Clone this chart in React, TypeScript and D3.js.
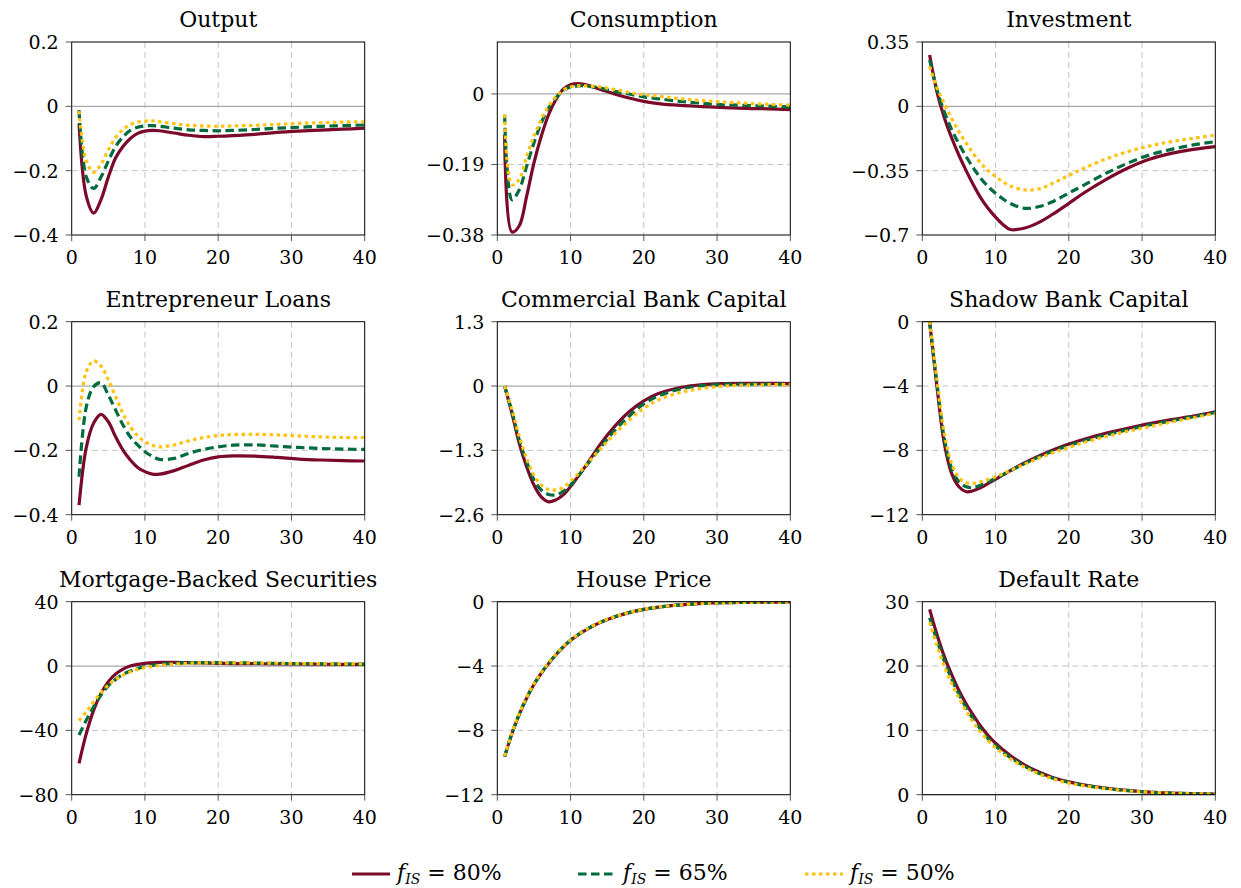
import React from 'react';
import * as d3 from 'd3';

// quarters after the shock
const PERIODS = [1, 2, 3, 4, 5, 6, 7, 8, 9, 10, 11, 12, 14, 16, 18, 20, 22, 25, 28, 31, 34, 37, 40];
const X_TICKS = [0, 10, 20, 30, 40];

const SERIES_LABELS = ['80%', '65%', '50%'];

// Output
const output80 = [-0.053, -0.28, -0.332, -0.29, -0.22, -0.16, -0.125, -0.1, -0.084, -0.077, -0.075, -0.076, -0.083, -0.09, -0.094, -0.093, -0.091, -0.087, -0.081, -0.077, -0.074, -0.071, -0.068];
const output65 = [-0.012, -0.22, -0.255, -0.22, -0.17, -0.125, -0.095, -0.075, -0.065, -0.061, -0.06, -0.062, -0.068, -0.073, -0.075, -0.076, -0.075, -0.072, -0.068, -0.065, -0.062, -0.06, -0.058];
const output50 = [-0.015, -0.17, -0.205, -0.18, -0.135, -0.097, -0.072, -0.057, -0.049, -0.046, -0.045, -0.048, -0.054, -0.059, -0.061, -0.062, -0.061, -0.059, -0.056, -0.053, -0.051, -0.049, -0.048];

// Consumption
const cons80 = [-0.11, -0.372, -0.355, -0.276, -0.186, -0.114, -0.056, -0.015, 0.013, 0.025, 0.028, 0.025, 0.013, 0, -0.011, -0.02, -0.026, -0.031, -0.034, -0.037, -0.039, -0.04, -0.042];
const cons65 = [-0.056, -0.285, -0.258, -0.195, -0.132, -0.078, -0.038, -0.011, 0.01, 0.019, 0.022, 0.022, 0.016, 0.007, 0, -0.008, -0.013, -0.02, -0.025, -0.029, -0.031, -0.033, -0.035];
const cons50 = [-0.056, -0.245, -0.23, -0.168, -0.114, -0.069, -0.033, -0.008, 0.01, 0.019, 0.022, 0.022, 0.019, 0.012, 0.004, -0.002, -0.006, -0.013, -0.018, -0.022, -0.025, -0.028, -0.03];

// Investment
const inv80 = [0.279, 0.079, -0.061, -0.171, -0.266, -0.351, -0.429, -0.499, -0.556, -0.603, -0.643, -0.67, -0.662, -0.63, -0.582, -0.528, -0.473, -0.4, -0.337, -0.288, -0.256, -0.234, -0.219];
const inv65 = [0.252, 0.09, -0.03, -0.125, -0.205, -0.274, -0.337, -0.392, -0.437, -0.473, -0.503, -0.528, -0.555, -0.545, -0.515, -0.472, -0.43, -0.366, -0.31, -0.265, -0.234, -0.21, -0.192];
const inv50 = [0.216, 0.1, 0.016, -0.065, -0.138, -0.2, -0.259, -0.31, -0.35, -0.383, -0.41, -0.433, -0.455, -0.448, -0.415, -0.376, -0.338, -0.288, -0.247, -0.216, -0.192, -0.174, -0.156];

// Entrepreneur loans
const loans80 = [-0.37, -0.19, -0.115, -0.088, -0.111, -0.158, -0.199, -0.23, -0.253, -0.266, -0.274, -0.274, -0.263, -0.246, -0.23, -0.22, -0.217, -0.218, -0.222, -0.227, -0.23, -0.232, -0.233];
const loans65 = [-0.282, -0.064, -0.002, 0.01, -0.028, -0.075, -0.121, -0.158, -0.183, -0.204, -0.218, -0.228, -0.225, -0.209, -0.197, -0.189, -0.184, -0.183, -0.187, -0.191, -0.194, -0.196, -0.197];
const loans50 = [-0.106, 0.045, 0.078, 0.062, 0.019, -0.033, -0.085, -0.126, -0.155, -0.173, -0.184, -0.189, -0.183, -0.17, -0.16, -0.154, -0.151, -0.15, -0.152, -0.155, -0.158, -0.16, -0.16];

// Commercial bank capital
const cbc80 = [0, -0.55, -1.16, -1.63, -2.0, -2.24, -2.34, -2.3, -2.2, -2.03, -1.83, -1.63, -1.19, -0.82, -0.52, -0.3, -0.15, -0.03, 0.03, 0.05, 0.054, 0.054, 0.05];
const cbc65 = [0, -0.52, -1.09, -1.53, -1.89, -2.1, -2.19, -2.2, -2.13, -2.0, -1.83, -1.64, -1.26, -0.9, -0.61, -0.36, -0.2, -0.06, 0.007, 0.034, 0.04, 0.04, 0.04];
const cbc50 = [0, -0.48, -1.02, -1.46, -1.8, -2.0, -2.09, -2.1, -2.05, -1.92, -1.78, -1.62, -1.28, -0.97, -0.69, -0.45, -0.28, -0.13, -0.047, 0, 0.02, 0.027, 0.027];

// Shadow bank capital
const sbc80 = [0, -4.04, -7.56, -9.43, -10.26, -10.57, -10.5, -10.32, -10.05, -9.8, -9.53, -9.26, -8.77, -8.33, -7.94, -7.6, -7.32, -6.94, -6.63, -6.34, -6.09, -5.87, -5.6];
const sbc65 = [0, -3.83, -7.25, -9.12, -9.95, -10.26, -10.3, -10.16, -9.95, -9.74, -9.51, -9.28, -8.81, -8.39, -8.02, -7.71, -7.42, -7.05, -6.72, -6.42, -6.16, -5.91, -5.64];
const sbc50 = [0, -3.63, -6.94, -8.81, -9.7, -10.01, -10.05, -9.95, -9.8, -9.64, -9.45, -9.26, -8.85, -8.46, -8.12, -7.81, -7.52, -7.15, -6.82, -6.53, -6.24, -5.97, -5.7];

// Mortgage-backed securities
const mbs80 = [-60.5, -41.9, -27.4, -17, -9.7, -5, -1.9, 0, 1.0, 1.7, 2.0, 2.3, 2.3, 2.1, 1.9, 1.7, 1.55, 1.45, 1.35, 1.25, 1.15, 1.05, 1.0];
const mbs65 = [-42.9, -33.6, -25.3, -18, -12.4, -8.3, -5.2, -3.1, -1.5, -0.4, 0.4, 1.0, 1.7, 2.1, 2.1, 2.1, 2.0, 1.85, 1.65, 1.45, 1.35, 1.25, 1.2];
const mbs50 = [-34, -28.4, -22.2, -16.6, -11.8, -8.3, -5.6, -3.5, -2.1, -1.0, -0.3, 0.4, 1.2, 1.7, 1.9, 2.0, 2.0, 1.9, 1.75, 1.55, 1.45, 1.35, 1.25];

// House price
const house80 = [-9.64, -8.2, -7.0, -6.0, -5.15, -4.45, -3.85, -3.3, -2.82, -2.4, -2.07, -1.78, -1.3, -0.95, -0.68, -0.48, -0.34, -0.2, -0.11, -0.06, -0.04, -0.03, -0.02];
const house65 = [-9.62, -8.18, -6.98, -5.98, -5.13, -4.43, -3.83, -3.29, -2.81, -2.39, -2.06, -1.77, -1.29, -0.94, -0.67, -0.48, -0.34, -0.2, -0.11, -0.06, -0.04, -0.03, -0.02];
const house50 = [-9.6, -8.15, -6.95, -5.95, -5.1, -4.4, -3.8, -3.27, -2.79, -2.38, -2.05, -1.76, -1.28, -0.94, -0.67, -0.47, -0.33, -0.2, -0.11, -0.06, -0.04, -0.03, -0.02];

// Default rate
const def80 = [28.8, 24.9, 21.5, 18.7, 16.2, 14.1, 12.3, 10.6, 9.2, 8.0, 7.0, 6.1, 4.6, 3.5, 2.6, 2.0, 1.55, 1.04, 0.67, 0.41, 0.26, 0.16, 0.1];
const def65 = [27.5, 24.0, 20.8, 18.0, 15.6, 13.5, 11.7, 10.1, 8.7, 7.6, 6.65, 5.8, 4.4, 3.3, 2.5, 1.9, 1.45, 0.98, 0.63, 0.4, 0.25, 0.15, 0.1];
const def50 = [26.8, 23.2, 20.0, 17.3, 15.0, 13.0, 11.2, 9.7, 8.4, 7.3, 6.4, 5.6, 4.25, 3.2, 2.4, 1.8, 1.4, 0.95, 0.6, 0.38, 0.24, 0.15, 0.1];

const panels = [
  { title: 'Output', domain: [-0.4, 0.2], yTicks: [-0.4, -0.2, 0, 0.2], series: [output80, output65, output50] },
  { title: 'Consumption', domain: [-0.38, 0.14], yTicks: [-0.38, -0.19, 0], series: [cons80, cons65, cons50] },
  { title: 'Investment', domain: [-0.7, 0.35], yTicks: [-0.7, -0.35, 0, 0.35], series: [inv80, inv65, inv50] },
  { title: 'Entrepreneur Loans', domain: [-0.4, 0.2], yTicks: [-0.4, -0.2, 0, 0.2], series: [loans80, loans65, loans50] },
  { title: 'Commercial Bank Capital', domain: [-2.6, 1.3], yTicks: [-2.6, -1.3, 0, 1.3], series: [cbc80, cbc65, cbc50] },
  { title: 'Shadow Bank Capital', domain: [-12, 0], yTicks: [-12, -8, -4, 0], series: [sbc80, sbc65, sbc50] },
  { title: 'Mortgage-Backed Securities', domain: [-80, 40], yTicks: [-80, -40, 0, 40], series: [mbs80, mbs65, mbs50] },
  { title: 'House Price', domain: [-12, 0], yTicks: [-12, -8, -4, 0], series: [house80, house65, house50] },
  { title: 'Default Rate', domain: [0, 30], yTicks: [0, 10, 20, 30], series: [def80, def65, def50] },
];

const COLORS = ['#7b0a2a', '#006b3f', '#ffc20e'];
const DASHES = [null, '8.5,4.5', '3.5,3.5'];
const FONT = '"DejaVu Serif", "Liberation Serif", serif';

const COL_LEFT = [71.7, 497.3, 922.3];
const ROW_TOP = [42, 321.7, 601.7];
const PW = 293;
const PH = 193;

const fmt = (v: number) => String(v).replace('-', '\u2212');

function Panel({ spec, idx }: { spec: any; idx: number }) {
  const left = COL_LEFT[idx % 3];
  const top = ROW_TOP[Math.floor(idx / 3)];
  const x = d3.scaleLinear().domain([0, 40]).range([left, left + PW]);
  const y = d3.scaleLinear().domain(spec.domain).range([top + PH, top]);
  const line = d3.line<number>()
    .x((_, i) => x(PERIODS[i]))
    .y(d => y(d))
    .curve(d3.curveCatmullRom.alpha(0.5));
  const clipId = `clip-${idx}`;
  const [lo, hi] = spec.domain;

  return (
    <g>
      <defs>
        <clipPath id={clipId}>
          <rect x={left} y={top} width={PW} height={PH} />
        </clipPath>
      </defs>
      {/* grid */}
      {X_TICKS.filter(t => t > 0 && t < 40).map(t => (
        <line key={'gx' + t} x1={x(t)} x2={x(t)} y1={top} y2={top + PH}
          stroke="#c4c4c4" strokeWidth={1} strokeDasharray="6,4" />
      ))}
      {spec.yTicks.filter((t: number) => t > lo && t < hi && t !== 0).map((t: number) => (
        <line key={'gy' + t} x1={left} x2={left + PW} y1={y(t)} y2={y(t)}
          stroke="#c4c4c4" strokeWidth={1} strokeDasharray="6,4" />
      ))}
      {lo <= 0 && hi >= 0 && (
        <line x1={left} x2={left + PW} y1={y(0)} y2={y(0)} stroke="#a8a8a8" strokeWidth={1.2} />
      )}
      {/* series */}
      <g clipPath={`url(#${clipId})`}>
        {spec.series.map((s: number[], i: number) => (
          <path key={i} d={line(s) || ''} fill="none" stroke={COLORS[i]} strokeWidth={3.2}
            strokeDasharray={DASHES[i] || undefined} strokeLinejoin="round" />
        ))}
      </g>
      {/* frame */}
      <rect x={left} y={top} width={PW} height={PH} fill="none" stroke="#000" strokeWidth={1} />
      {/* y ticks */}
      {spec.yTicks.map((t: number) => (
        <g key={'yt' + t}>
          <line x1={left - 6} x2={left} y1={y(t)} y2={y(t)} stroke="#555" strokeWidth={1} />
          <text x={left - 13} y={y(t)} dy="0.36em" textAnchor="end" fontFamily={FONT} fontSize={19}>
            {fmt(t)}
          </text>
        </g>
      ))}
      {/* x ticks */}
      {X_TICKS.map(t => (
        <g key={'xt' + t}>
          <line x1={x(t)} x2={x(t)} y1={top + PH} y2={top + PH + 6} stroke="#555" strokeWidth={1} />
          <text x={x(t)} y={top + PH + 29} textAnchor="middle" fontFamily={FONT} fontSize={19}>
            {t}
          </text>
        </g>
      ))}
      <text x={left + PW / 2} y={top - 15} textAnchor="middle" fontFamily={FONT} fontSize={22}>
        {spec.title}
      </text>
    </g>
  );
}

const LEGEND_X = [352, 578, 805];

export default function App() {
  return (
    <div style={{ position: 'absolute', left: 0, top: 0 }}>
      <svg width={1241} height={888} style={{ display: 'block', background: '#fff' }}>
        {panels.map((p, i) => <Panel key={p.title} spec={p} idx={i} />)}
        {SERIES_LABELS.map((lab, i) => (
          <g key={lab}>
            <line x1={LEGEND_X[i]} x2={LEGEND_X[i] + 38} y1={874} y2={874} stroke={COLORS[i]}
              strokeWidth={3.2} strokeDasharray={DASHES[i] || undefined} />
            <text x={LEGEND_X[i] + 45} y={880} fontFamily={FONT} fontSize={22}>
              <tspan fontStyle="italic">f</tspan>
              <tspan fontStyle="italic" fontSize={14} dy={4}>IS</tspan>
              <tspan dy={-4}>{` = ${lab}`}</tspan>
            </text>
          </g>
        ))}
      </svg>
    </div>
  );
}
